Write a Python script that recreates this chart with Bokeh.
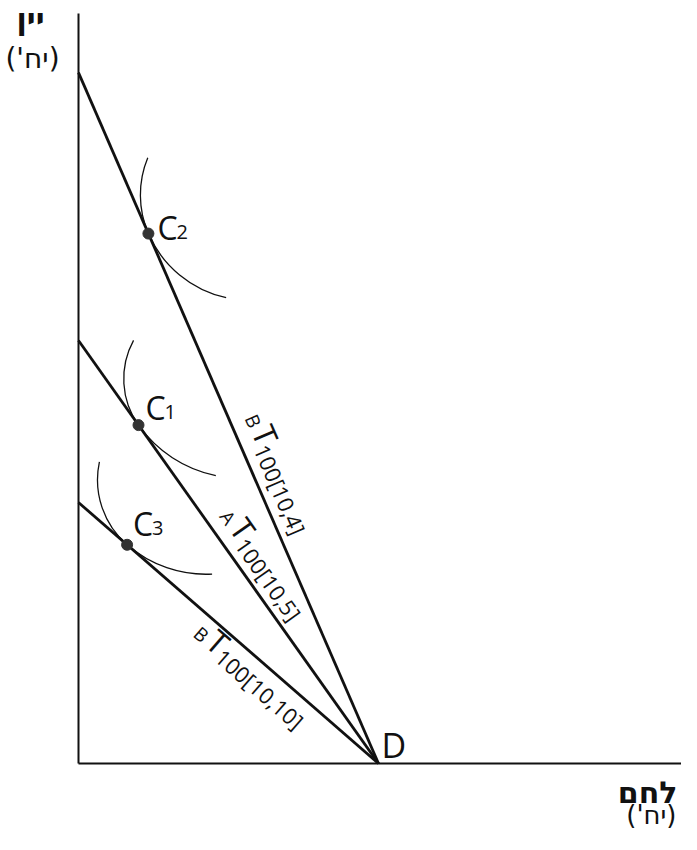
import math

from bokeh.plotting import figure
from bokeh.models import Range1d, Label
from bokeh.core.properties import value
from bokeh.embed import file_html
from bokeh.resources import INLINE

# budget lines, all ending at D on the bread axis
d_bread = 10.0
wine_intercepts = [23.03, 14.1, 8.7]
line_pre = ["B", "A", "B"]
line_sub = ["100[10,4]", "100[10,5]", "100[10,10]"]

# chosen points C2, C1, C3 (bread amount on each line)
point_index = ["2", "1", "3"]
point_bread = [2.33, 2.0, 1.62]

# indifference curves: two arcs touching the line at the point
# (radius above / below the point, in data units, and their sweep in degrees)
curve_r_top = [3.23, 2.67, 2.87]
curve_r_bot = [3.7, 4.2, 4.0]
sweep_top = [46, 64, 61]
sweep_bot = [54, 43, 44]

# axis titles
y_title, x_title, unit_title = "יין", "לחם", "\u200f(יח')\u200f"

PX = 1 / 30.0  # one screen pixel in data units
W, H = 681, 834
OX, OY = 78, 763  # origin on the canvas

p = figure(width=W, height=H, output_backend="svg", toolbar_location=None,
           x_range=Range1d(-OX * PX, (W - OX) * PX),
           y_range=Range1d(-(H - OY) * PX, OY * PX),
           x_axis_type=None, y_axis_type=None, min_border=0)
p.outline_line_color = None
p.grid.visible = False

ink = "#111111"
font = value("Open Sans")

# axes
p.segment(x0=[0, 0], y0=[0, 0], x1=[0, (W - OX) * PX], y1=[(OY - 13) * PX, 0],
          line_color=ink, line_width=2)

# budget lines
p.segment(x0=[0] * 3, y0=wine_intercepts, x1=[d_bread] * 3, y1=[0] * 3,
          line_color=ink, line_width=2.8)

# line labels: start along the line (px from the wine axis),
# and distance of the big T's centre off the line (px, + is up-right)
label_along = [383, 225, 173]
label_off = [27.5, 25.5, -13]

for a, pre, sub, along, off in zip(wine_intercepts, line_pre, line_sub,
                                   label_along, label_off):
    L = math.hypot(d_bread, a)
    ux, uy = d_bread / L, -a / L
    nx, ny = -uy, ux
    ang = math.atan2(uy, ux)

    def at(s, o):
        return (ux * s * PX + nx * o * PX, a + uy * s * PX + ny * o * PX)

    for s, o, txt, size in [(along, off - 6, pre, "19px"),
                            (along + 15, off, "T", "32px"),
                            (along + 32, off - 8.5, sub, "22px")]:
        x, y = at(s, o)
        p.text(x=[x], y=[y], text=[txt], angle=ang, text_font=font,
               text_font_size=size, text_color=ink, text_baseline="middle")

# indifference curves and points
pt_x, pt_y = [], []
for a, xb, rt, rb, st, sb in zip(wine_intercepts, point_bread, curve_r_top,
                                 curve_r_bot, sweep_top, sweep_bot):
    L = math.hypot(d_bread, a)
    nx, ny = a / L, d_bread / L
    px_, py_ = xb, a * (1 - xb / d_bread)
    pt_x.append(px_)
    pt_y.append(py_)
    pa = math.atan2(-ny, -nx)
    p.arc(x=[px_ + rt * nx], y=[py_ + rt * ny], radius=rt,
          start_angle=pa - math.radians(st), end_angle=pa,
          direction="anticlock", line_color=ink, line_width=1.3)
    p.arc(x=[px_ + rb * nx], y=[py_ + rb * ny], radius=rb,
          start_angle=pa, end_angle=pa + math.radians(sb),
          direction="anticlock", line_color=ink, line_width=1.3)

p.scatter(pt_x, pt_y, size=11, color="#333333")

# point names: offset of the C (px right, px down to its centre)
name_off = [(9, -6.5), (7, -17.4), (6, -21.6)]
for xx, yy, idx, (dx, dy) in zip(pt_x, pt_y, point_index, name_off):
    p.text(x=[xx], y=[yy], text=["C"], x_offset=dx, y_offset=dy,
           text_font=font, text_font_size="32px", text_color=ink,
           text_baseline="middle")
    p.text(x=[xx], y=[yy], text=[idx], x_offset=dx + 19, y_offset=dy + 4.5,
           text_font=font, text_font_size="20px", text_color=ink,
           text_baseline="middle")

p.text(x=[d_bread], y=[0], text=["D"], x_offset=3, y_offset=-19,
       text_font=font, text_font_size="34px", text_color=ink,
       text_baseline="middle")

# axis titles (screen units, y measured from the bottom)
heb = dict(x_units="screen", y_units="screen", text_font="DejaVu Sans",
           text_color=ink, text_baseline="middle")
p.add_layout(Label(x=30, y=H - 18, text=y_title, text_font_style="bold",
                   text_font_size="30px", text_align="center", **heb))
p.add_layout(Label(x=32, y=H - 58, text=unit_title, text_font_size="28px",
                   text_align="center", **heb))
p.add_layout(Label(x=W - 4, y=H - 792, text=x_title, text_font_style="bold",
                   text_font_size="30px", text_align="right", **heb))
p.add_layout(Label(x=W - 5, y=H - 814, text=unit_title, text_font_size="26px",
                   text_align="right", **heb))

open("out.html", "w").write(file_html(p, INLINE))
